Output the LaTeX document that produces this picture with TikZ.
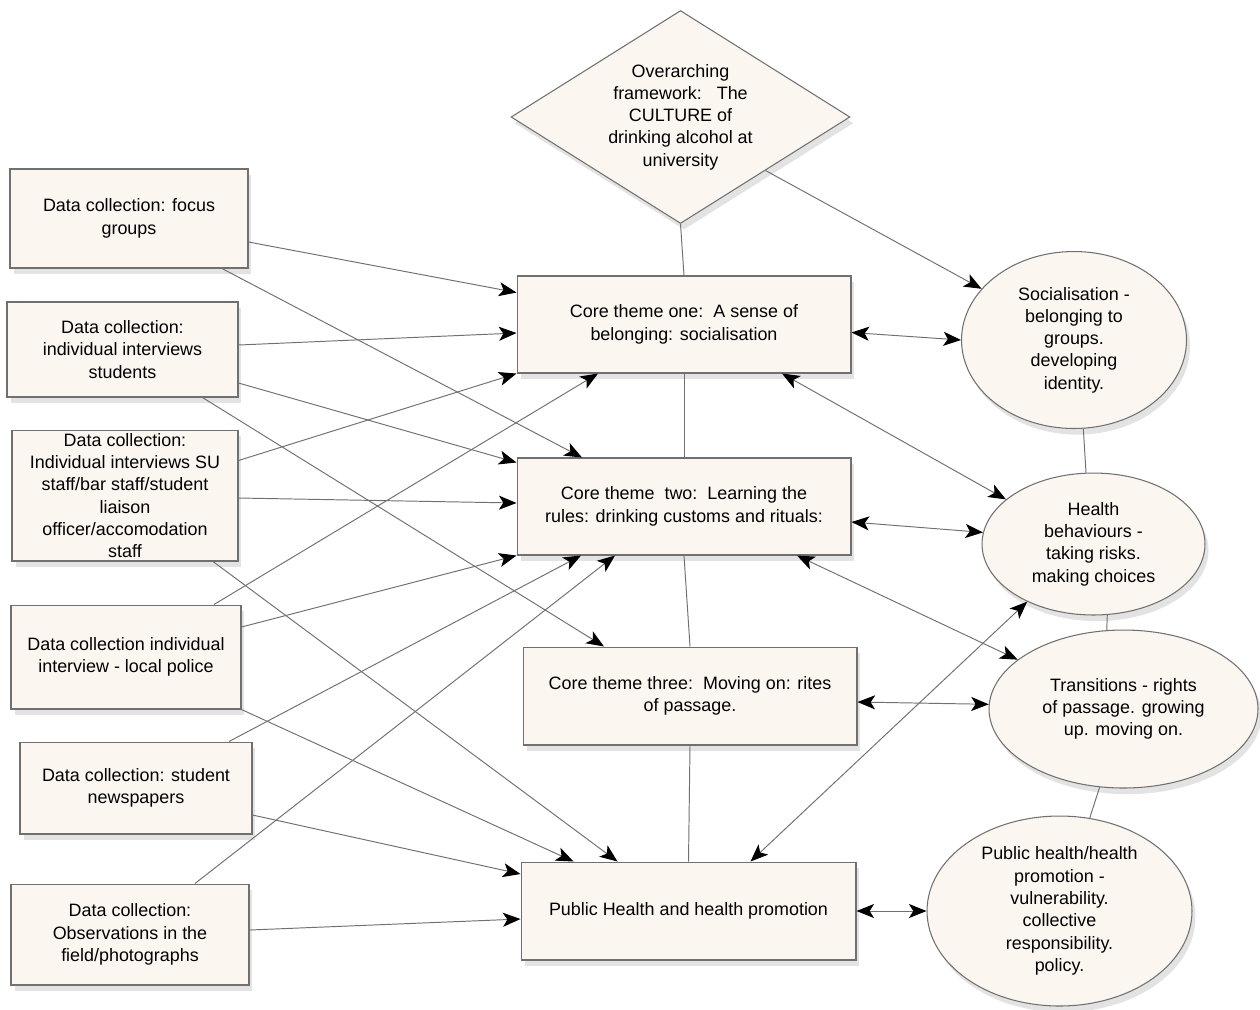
\documentclass[tikz,border=0pt]{standalone}
\usepackage{fontspec}
\setmainfont{Liberation Sans}
\usetikzlibrary{arrows.meta,shapes.geometric,shadows}
\definecolor{boxfill}{RGB}{252,246,241}
\definecolor{edgegray}{RGB}{112,112,112}
\tikzset{font=\fontsize{10.2}{12.7}\selectfont}
\tikzset{
  box/.style={draw=edgegray,fill=boxfill,line width=0.6pt,align=center,inner sep=0pt,
    drop shadow={opacity=0.22,shadow xshift=2pt,shadow yshift=-3.5pt}},
  datanode/.style={box,rectangle},
  result/.style={box,ellipse},
  link/.style={draw=edgegray,line width=0.55pt},
  arr/.style={link,-{Stealth[length=10pt,width=8pt,inset=2.5pt,color=black]}},
  biarr/.style={link,{Stealth[length=10pt,width=8pt,inset=2.5pt,color=black]}-{Stealth[length=10pt,width=8pt,inset=2.5pt,color=black]}},
}

\begin{document}
\begin{tikzpicture}[x=0.02cm,y=-0.02cm]
  \useasboundingbox (0,0) rectangle (1260,1009);

  % data collection
  \node[datanode,minimum width=4.76cm,minimum height=1.98cm] (L1) at (129,218.5)
    {Data collection: focus\\groups};
  \node[datanode,minimum width=4.62cm,minimum height=1.90cm] (L2) at (122.5,349.5)
    {Data collection:\\individual interviews\\students};
  \node[datanode,minimum width=4.52cm,minimum height=2.62cm] (L3) at (125,495.5)
    {Data collection:\\Individual interviews SU\\staff/bar staff/student\\liaison\\officer/accomodation\\staff};
  \node[datanode,minimum width=4.60cm,minimum height=2.08cm] (L4) at (126,657)
    {Data collection individual\\interview - local police};
  \node[datanode,minimum width=4.64cm,minimum height=1.84cm] (L5) at (136,788)
    {Data collection: student\\newspapers};
  \node[datanode,minimum width=4.76cm,minimum height=2.02cm] (L6) at (130,934.5)
    {Data collection:\\Observations in the\\field/photographs};

  % themes
  \node[box,diamond,aspect=1.6,minimum width=6.78cm,minimum height=4.26cm] (D) at (680.5,117)
    {Overarching\\framework:\ \ \ The\\CULTURE of\\drinking alcohol at\\university};
  \node[datanode,minimum width=6.68cm,minimum height=1.94cm] (C1) at (684,324.5)
    {Core theme one:\ \ A sense of\\belonging: socialisation};
  \node[datanode,minimum width=6.68cm,minimum height=1.94cm] (C2) at (684,506.5)
    {Core theme\ \ two:\ \ Learning the\\rules: drinking customs and rituals:};
  \node[datanode,minimum width=6.68cm,minimum height=1.96cm] (C3) at (690,696)
    {Core theme three:\ \ Moving on: rites\\of passage.};
  \node[datanode,minimum width=6.70cm,minimum height=1.96cm] (C4) at (688.5,911)
    {Public Health and health promotion};

  % outcomes
  \node[result,minimum width=4.50cm,minimum height=3.54cm] (E1) at (1074,340)
    {Socialisation -\\belonging to\\groups.\\developing\\identity.};
  \node[result,minimum width=4.46cm,minimum height=2.84cm] (E2) at (1093.5,544)
    {Health\\behaviours -\\taking risks.\\making choices};
  \node[result,minimum width=5.38cm,minimum height=3.16cm] (E3) at (1123.5,709)
    {Transitions - rights\\of passage. growing\\up. moving on.};
  \node[result,minimum width=5.30cm,minimum height=3.80cm] (E4) at (1059.5,911)
    {Public health/health\\promotion -\\vulnerability.\\collective\\responsibility.\\policy.};

  % plain links
  \draw[link] (D.south) -- (C1.north);
  \draw[link] (C1.south) -- (C2.north);
  \draw[link] (C2.south) -- (C3.north);
  \draw[link] (C3.south) -- (C4.north);
  \draw[link] (E1.-84) -- (E2.96);
  \draw[link] (E2.-79) -- (E3.102);
  \draw[link] (E3.-107) -- (E4.72);

  % data to themes
  \draw[arr] ([shift={(0,23.5)}]L1.east) -- ([shift={(0,-32)}]C1.west);
  \draw[arr] ([shift={(93,0)}]L1.south) -- ([shift={(-102,0)}]C2.north);
  \draw[arr] ([shift={(0,-4.5)}]L2.east) -- ([shift={(0,8.5)}]C1.west);
  \draw[arr] ([shift={(0,33.5)}]L2.east) -- ([shift={(0,5)}]C2.north west);
  \draw[arr] ([shift={(80,0)}]L2.south) -- ([shift={(-86,0)}]C3.north);
  \draw[arr] ([shift={(0,-35)}]L3.east) -- (C1.south west);
  \draw[arr] ([shift={(0,2.5)}]L3.east) -- ([shift={(0,-3.5)}]C2.west);
  \draw[arr] ([shift={(88,0)}]L3.south) -- ([shift={(-71,0)}]C4.north);
  \draw[arr] ([shift={(88,0)}]L4.north) -- ([shift={(-86,0)}]C1.south);
  \draw[arr] ([shift={(0,-30)}]L4.east) -- (C2.south west);
  \draw[arr] (L4.south east) -- ([shift={(-115,0)}]C4.north);
  \draw[arr] ([shift={(93,0)}]L5.north) -- ([shift={(-103,0)}]C2.south);
  \draw[arr] ([shift={(0,27)}]L5.east) -- ([shift={(0,-37)}]C4.west);
  \draw[arr] ([shift={(65,0)}]L6.north) -- ([shift={(-69,0)}]C2.south);
  \draw[arr] ([shift={(0,-4.5)}]L6.east) -- ([shift={(0,8)}]C4.west);

  % themes to outcomes
  \draw[arr] (D.south east) -- (E1.151);
  \draw[biarr] ([shift={(0,8)}]C1.east) -- (E1.west);
  \draw[biarr] ([shift={(0,15.5)}]C2.east) -- (E2.174);
  \draw[biarr] ([shift={(0,6)}]C3.east) -- (E3.178);
  \draw[biarr] (C4.east) -- (E4.west);
  \draw[biarr] ([shift={(98,0)}]C1.south) -- (E2.153);
  \draw[biarr] ([shift={(113,0)}]C2.south) -- (E3.155);
  \draw[biarr] ([shift={(62,0)}]C4.north) -- (E2.221);

\end{tikzpicture}
\end{document}
